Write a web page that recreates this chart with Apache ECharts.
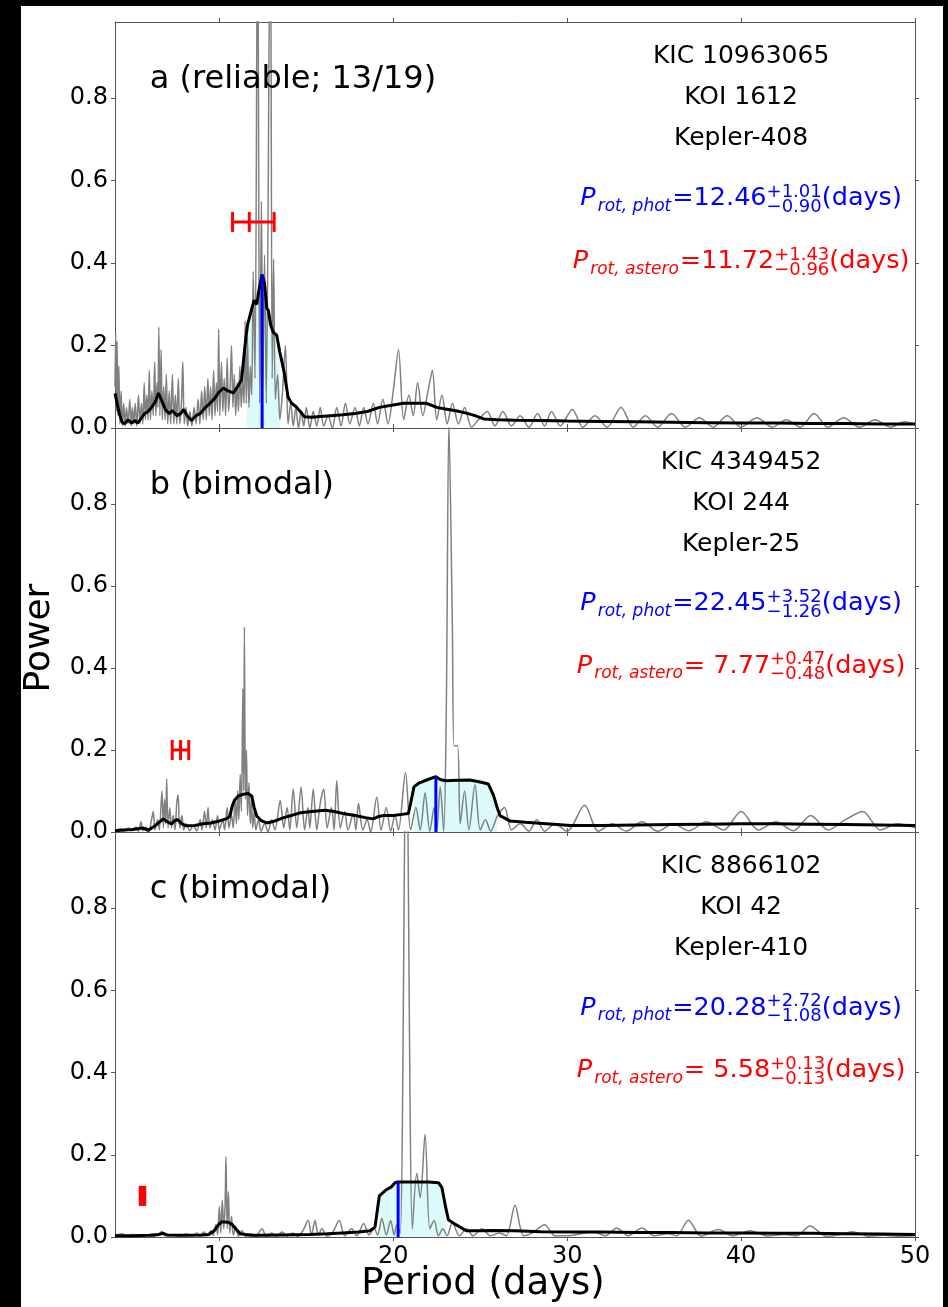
<!DOCTYPE html>
<html><head><meta charset="utf-8">
<script src="https://cdn.jsdelivr.net/npm/echarts@6/dist/echarts.min.js"></script>
<style>
html,body{margin:0;padding:0;background:#000;}
#bg{position:absolute;left:21px;top:6px;width:922px;height:1301px;background:#fff;}
#c{position:absolute;left:0;top:0;width:948px;height:1307px;}
</style>
</head><body>
<div id="bg"></div><div id="c"></div>
<script>
// ---------- data ----------
const periodTicks = [10, 20, 30, 40, 50];
const powerTicks = [0, 0.2, 0.4, 0.6, 0.8];
const panelLabels = ['a (reliable; 13/19)', 'b (bimodal)', 'c (bimodal)'];
const kicNames = ['KIC 10963065', 'KIC 4349452', 'KIC 8866102'];
const koiNames = ['KOI 1612', 'KOI 244', 'KOI 42'];
const keplerNames = ['Kepler-408', 'Kepler-25', 'Kepler-410'];
const pPhot = [12.46, 22.45, 20.28];
const pPhotErrHi = [1.01, 3.52, 2.72];
const pPhotErrLo = [0.90, 1.26, 1.08];
const pAstero = [11.72, 7.77, 5.58];
const pAsteroErrHi = [1.43, 0.47, 0.13];
const pAsteroErrLo = [0.96, 0.48, 0.13];
const pAsteroMarkPower = [0.5, 0.2, 0.1];

const greyA = [[4.0,0.10],[4.04,0.23],[4.08,0.04],[4.12,0.21],[4.17,0.03],[4.22,0.15],[4.28,0.01],[4.35,0.09],[4.42,0.005],[4.5,0.06],[4.58,0.005],[4.66,0.05],[4.75,0.01],[4.85,0.07],[4.93,0.005],[5.0,0.05],[5.08,0.01],[5.16,0.06],[5.25,0.005],[5.35,0.08],[5.43,0.01],[5.52,0.06],[5.6,0.01],[5.68,0.11],[5.75,0.02],[5.83,0.08],[5.9,0.02],[5.97,0.14],[6.04,0.02],[6.12,0.09],[6.2,0.03],[6.28,0.16],[6.35,0.03],[6.42,0.11],[6.47,0.05],[6.52,0.245],[6.58,0.03],[6.65,0.19],[6.72,0.02],[6.8,0.1],[6.88,0.02],[6.95,0.13],[7.03,0.01],[7.12,0.09],[7.2,0.01],[7.3,0.13],[7.38,0.01],[7.47,0.08],[7.55,0.01],[7.64,0.12],[7.72,0.01],[7.82,0.06],[7.9,0.16],[7.98,0.01],[8.08,0.05],[8.18,0.005],[8.3,0.04],[8.42,0.005],[8.55,0.05],[8.66,0.01],[8.78,0.07],[8.88,0.01],[8.98,0.09],[9.07,0.02],[9.16,0.1],[9.25,0.02],[9.34,0.12],[9.42,0.03],[9.5,0.1],[9.58,0.02],[9.67,0.14],[9.75,0.03],[9.83,0.11],[9.9,0.04],[9.96,0.24],[10.03,0.03],[10.12,0.16],[10.2,0.04],[10.28,0.12],[10.36,0.03],[10.45,0.17],[10.53,0.04],[10.62,0.1],[10.7,0.2],[10.78,0.05],[10.86,0.13],[10.94,0.03],[11.02,0.11],[11.1,0.04],[11.18,0.15],[11.26,0.05],[11.34,0.12],[11.42,0.06],[11.48,0.26],[11.55,0.06],[11.62,0.22],[11.7,0.05],[11.78,0.15],[11.86,0.08],[11.95,0.38],[12.05,0.12],[12.2,1.3],[12.32,0.06],[12.42,0.55],[12.5,0.1],[12.6,0.42],[12.7,0.06],[12.93,1.3],[13.04,0.12],[13.12,0.41],[13.22,0.07],[13.35,0.13],[13.48,0.02],[13.62,0.08],[13.8,0.2],[13.95,0.01],[14.1,0.06],[14.25,0.005],[14.4,0.05],[14.55,0.0],[14.7,0.04],[14.85,0.005],[15.0,0.05],[15.2,0.0],[15.4,0.04],[15.6,0.005],[15.8,0.05],[16.0,0.005],[16.25,0.03],[16.5,0.0],[16.75,0.05],[17.0,0.005],[17.25,0.06],[17.5,0.01],[17.8,0.05],[18.05,0.005],[18.3,0.05],[18.55,0.01],[18.85,0.06],[19.1,0.01],[19.4,0.07],[19.7,0.01],[20.0,0.09],[20.3,0.19],[20.6,0.02],[20.9,0.08],[21.15,0.03],[21.4,0.11],[21.7,0.03],[22.0,0.09],[22.25,0.14],[22.5,0.02],[22.8,0.08],[23.1,0.01],[23.4,0.06],[23.75,0.01],[24.1,0.05],[24.5,0.002],[24.9,0.02],[25.4,0.04],[25.85,0.005],[26.3,0.04],[26.8,0.005],[27.3,0.03],[27.8,0.002],[28.3,0.035],[28.7,0.005],[29.1,0.04],[29.6,0.005],[30.3,0.045],[30.9,0.002],[31.6,0.03],[32.3,0.002],[33.1,0.05],[33.8,0.002],[34.5,0.03],[35.2,0.002],[36.0,0.035],[36.8,0.002],[37.6,0.025],[38.4,0.002],[39.2,0.03],[40.0,0.002],[40.9,0.025],[41.8,0.002],[42.6,0.02],[43.4,0.002],[44.2,0.035],[45.0,0.002],[45.9,0.025],[46.8,0.002],[47.7,0.02],[48.6,0.002],[49.4,0.015],[50.0,0.008]];

const smoothA = [[4.0,0.084],[4.12,0.06],[4.25,0.035],[4.4,0.015],[4.55,0.01],[4.75,0.02],[4.95,0.012],[5.15,0.018],[5.3,0.012],[5.45,0.02],[5.7,0.035],[5.9,0.04],[6.1,0.05],[6.3,0.062],[6.5,0.085],[6.7,0.065],[6.9,0.045],[7.1,0.035],[7.3,0.042],[7.57,0.03],[7.8,0.036],[7.95,0.045],[8.15,0.03],[8.4,0.018],[8.65,0.03],[8.9,0.035],[9.2,0.05],[9.46,0.06],[9.7,0.07],[10.0,0.088],[10.23,0.097],[10.5,0.09],[10.8,0.085],[11.05,0.1],[11.28,0.117],[11.45,0.19],[11.56,0.23],[11.62,0.25],[11.87,0.29],[12.0,0.31],[12.15,0.30],[12.3,0.34],[12.46,0.372],[12.6,0.35],[12.73,0.29],[12.82,0.285],[12.95,0.25],[13.1,0.232],[13.3,0.225],[13.47,0.185],[13.55,0.17],[13.75,0.13],[13.95,0.075],[14.15,0.06],[14.4,0.052],[14.65,0.04],[14.9,0.027],[15.3,0.026],[15.8,0.028],[16.4,0.03],[17.1,0.032],[17.8,0.035],[18.5,0.04],[19.2,0.05],[19.9,0.055],[20.6,0.06],[21.3,0.06],[21.9,0.06],[22.5,0.05],[23.0,0.046],[23.6,0.042],[24.2,0.036],[24.7,0.03],[25.2,0.022],[26.0,0.02],[27.0,0.019],[28.5,0.018],[30.0,0.017],[32.0,0.016],[34.0,0.015],[36.0,0.014],[38.0,0.013],[40.0,0.012],[42.0,0.012],[44.0,0.011],[46.0,0.011],[48.0,0.01],[50.0,0.01]];

const greyB = [[4.0,0.002],[4.3,0.008],[4.5,0.002],[4.8,0.01],[5.0,0.003],[5.2,0.012],[5.35,0.002],[5.5,0.025],[5.6,0.003],[5.8,0.012],[5.95,0.002],[6.1,0.03],[6.2,0.05],[6.3,0.005],[6.45,0.03],[6.55,0.005],[6.7,0.1],[6.78,0.01],[6.85,0.08],[6.92,0.02],[6.97,0.13],[7.05,0.01],[7.15,0.06],[7.25,0.01],[7.35,0.04],[7.45,0.005],[7.55,0.07],[7.63,0.09],[7.72,0.01],[7.85,0.04],[7.95,0.005],[8.1,0.02],[8.3,0.003],[8.5,0.015],[8.7,0.003],[8.9,0.03],[9.0,0.005],[9.15,0.05],[9.25,0.01],[9.35,0.06],[9.45,0.01],[9.6,0.03],[9.75,0.005],[9.9,0.04],[10.0,0.005],[10.2,0.03],[10.3,0.005],[10.45,0.06],[10.55,0.01],[10.7,0.04],[10.8,0.01],[10.9,0.08],[10.98,0.02],[11.05,0.1],[11.12,0.03],[11.2,0.14],[11.27,0.05],[11.35,0.35],[11.4,0.1],[11.44,0.5],[11.5,0.08],[11.56,0.2],[11.62,0.04],[11.7,0.12],[11.78,0.02],[11.85,0.08],[11.92,0.01],[12.0,0.05],[12.1,0.005],[12.25,0.03],[12.4,0.002],[12.6,0.02],[12.8,0.0],[13.0,0.03],[13.2,0.005],[13.5,0.077],[13.7,0.01],[13.9,0.06],[14.05,0.005],[14.25,0.105],[14.45,0.01],[14.7,0.11],[14.9,0.005],[15.1,0.06],[15.2,0.01],[15.4,0.105],[15.6,0.005],[15.8,0.07],[16.0,0.105],[16.2,0.01],[16.45,0.06],[16.6,0.005],[16.75,0.125],[16.95,0.01],[17.2,0.05],[17.4,0.005],[17.7,0.045],[17.85,0.005],[18.0,0.07],[18.25,0.005],[18.5,0.03],[18.7,0.0],[19.05,0.085],[19.3,0.005],[19.6,0.06],[19.85,0.002],[20.1,0.04],[20.3,0.005],[20.7,0.145],[21.0,0.005],[21.3,0.06],[21.55,0.005],[21.83,0.095],[22.1,0.002],[22.35,0.06],[22.5,0.002],[22.7,0.11],[22.9,0.002],[23.05,0.3],[23.2,1.0],[23.4,0.5],[23.5,0.21],[23.7,0.21],[23.85,0.02],[24.1,0.1],[24.35,0.005],[24.7,0.115],[25.0,0.005],[25.3,0.03],[25.6,0.002],[26.0,0.04],[26.4,0.06],[26.8,0.005],[27.3,0.02],[27.8,0.002],[28.25,0.03],[28.7,0.002],[29.3,0.02],[30.0,0.002],[31.0,0.065],[31.8,0.002],[32.6,0.02],[33.4,0.002],[34.3,0.025],[35.2,0.002],[36.1,0.02],[37.0,0.003],[38.0,0.025],[39.0,0.005],[40.0,0.05],[41.0,0.005],[42.0,0.025],[43.0,0.003],[44.0,0.04],[45.0,0.005],[46.0,0.03],[47.0,0.05],[48.0,0.005],[49.0,0.02],[50.0,0.01]];

const smoothB = [[4.0,0.003],[4.5,0.005],[5.0,0.006],[5.6,0.01],[5.9,0.004],[6.2,0.012],[6.5,0.022],[6.77,0.032],[7.0,0.025],[7.25,0.02],[7.45,0.028],[7.6,0.03],[7.85,0.02],[8.1,0.015],[8.6,0.016],[9.05,0.02],[9.5,0.022],[10.0,0.027],[10.4,0.032],[10.6,0.038],[10.75,0.065],[10.88,0.078],[11.1,0.088],[11.38,0.092],[11.65,0.094],[11.86,0.088],[12.0,0.06],[12.15,0.039],[12.4,0.028],[12.73,0.022],[13.2,0.027],[13.7,0.035],[14.2,0.041],[14.67,0.047],[15.3,0.05],[16.08,0.053],[16.6,0.05],[17.1,0.045],[17.8,0.04],[18.4,0.035],[18.85,0.032],[19.1,0.037],[19.4,0.04],[20.0,0.04],[20.5,0.043],[20.87,0.045],[21.0,0.07],[21.19,0.11],[21.5,0.12],[22.0,0.128],[22.45,0.135],[22.7,0.128],[23.0,0.125],[23.7,0.126],[24.4,0.127],[25.0,0.122],[25.47,0.117],[25.76,0.09],[25.97,0.06],[26.14,0.04],[26.7,0.027],[27.6,0.024],[28.6,0.021],[30.2,0.016],[32.0,0.016],[34.0,0.017],[36.0,0.018],[38.0,0.019],[40.0,0.02],[42.0,0.02],[44.0,0.019],[46.0,0.018],[48.0,0.017],[50.0,0.016]];

const greyC = [[4.0,0.004],[4.4,0.008],[4.7,0.002],[5.0,0.006],[5.4,0.002],[5.8,0.005],[6.2,0.002],[6.5,0.006],[6.7,0.014],[6.85,0.003],[7.3,0.004],[7.7,0.002],[8.1,0.007],[8.4,0.002],[8.7,0.01],[8.9,0.002],[9.1,0.012],[9.3,0.003],[9.5,0.015],[9.65,0.004],[9.8,0.03],[9.9,0.006],[10.0,0.075],[10.08,0.01],[10.17,0.09],[10.25,0.02],[10.33,0.08],[10.38,0.195],[10.45,0.02],[10.52,0.11],[10.6,0.01],[10.7,0.05],[10.8,0.005],[10.95,0.025],[11.1,0.002],[11.3,0.015],[11.5,0.002],[11.8,0.008],[12.1,0.002],[12.45,0.02],[12.7,0.002],[13.0,0.01],[13.3,0.002],[13.6,0.012],[13.9,0.002],[14.2,0.01],[14.5,0.002],[14.8,0.015],[15.1,0.04],[15.3,0.005],[15.5,0.04],[15.7,0.005],[15.9,0.02],[16.2,0.002],[16.5,0.01],[16.9,0.04],[17.2,0.003],[17.6,0.02],[17.9,0.003],[18.3,0.033],[18.6,0.005],[18.9,0.02],[19.1,0.005],[19.34,0.045],[19.6,0.005],[19.85,0.04],[20.05,0.005],[20.2,0.03],[20.4,0.01],[20.75,1.3],[21.1,0.02],[21.35,0.155],[21.55,0.095],[21.83,0.25],[22.1,0.02],[22.35,0.04],[22.6,0.003],[22.85,0.02],[23.1,0.003],[23.4,0.035],[23.8,0.003],[24.2,0.02],[24.6,0.003],[25.1,0.02],[25.6,0.003],[26.1,0.01],[26.5,0.003],[27.0,0.077],[27.5,0.003],[28.0,0.01],[28.7,0.03],[29.3,0.003],[30.0,0.003],[30.8,0.008],[31.5,0.013],[32.2,0.003],[32.85,0.022],[33.5,0.003],[34.3,0.022],[35.0,0.003],[35.8,0.008],[36.3,0.003],[36.97,0.041],[37.7,0.002],[38.7,0.018],[39.5,0.003],[40.5,0.015],[41.5,0.003],[42.5,0.006],[43.2,0.003],[43.96,0.027],[44.9,0.002],[45.6,0.005],[46.4,0.013],[47.3,0.002],[48.2,0.004],[49.0,0.002],[50.0,0.003]];

const smoothC = [[4.0,0.003],[5.0,0.003],[6.0,0.004],[6.5,0.006],[6.77,0.009],[7.0,0.005],[8.0,0.004],[9.0,0.005],[9.4,0.006],[9.7,0.015],[9.95,0.03],[10.13,0.037],[10.5,0.036],[10.75,0.03],[10.9,0.022],[11.2,0.008],[11.8,0.004],[12.35,0.004],[13.5,0.005],[15.2,0.006],[16.2,0.008],[17.1,0.01],[18.0,0.012],[18.66,0.015],[18.95,0.024],[19.1,0.07],[19.2,0.1],[19.6,0.115],[19.9,0.122],[20.1,0.132],[20.28,0.134],[21.0,0.134],[22.0,0.134],[22.6,0.132],[22.8,0.12],[23.0,0.075],[23.17,0.042],[23.6,0.03],[24.2,0.015],[25.0,0.015],[25.7,0.016],[27.0,0.015],[28.5,0.013],[30.2,0.012],[32.0,0.012],[34.0,0.011],[36.0,0.011],[38.0,0.01],[40.0,0.01],[42.0,0.009],[44.0,0.009],[46.0,0.008],[48.0,0.007],[50.0,0.006]];

const greyCurves = [greyA, greyB, greyC];
const smoothCurves = [smoothA, smoothB, smoothC];

// ---------- chart ----------
const FONT = '"DejaVu Sans", sans-serif';
const AX = '#555';
const Y_MAX = 0.985;
const grids = [
  {left:115, top:22, width:800, height:406},
  {left:115, top:428, width:800, height:404},
  {left:115, top:832, width:800, height:405}
];
const xAxes = [], yAxes = [], series = [];
for (let k = 0; k < 3; k++) {
  ['bottom','top'].forEach(pos => {
    xAxes.push({type:'value', gridIndex:k, min:4, max:50, position:pos,
      axisLine:{show:true, onZero:false, lineStyle:{color:AX, width:1}},
      axisTick:{show:true, inside:false, length:4, customValues:periodTicks, lineStyle:{color:AX}},
      axisLabel:{show:(k===2 && pos==='bottom'), customValues:periodTicks, fontSize:24, color:'#000', fontFamily:FONT, margin:8},
      splitLine:{show:false}});
  });
  ['left','right'].forEach(pos => {
    yAxes.push({type:'value', gridIndex:k, min:0, max:Y_MAX, position:pos,
      axisLine:{show:true, onZero:false, lineStyle:{color:AX, width:1}},
      axisTick:{show:true, inside:false, length:4, customValues:powerTicks, lineStyle:{color:AX}},
      axisLabel:{show:pos==='left', customValues:powerTicks, formatter:v=>v.toFixed(1), fontSize:24, color:'#000', fontFamily:FONT, margin:7},
      splitLine:{show:false}});
  });
  const xi = 2*k, yi = 2*k;
  const sm = smoothCurves[k];
  const lo = pPhot[k]-pPhotErrLo[k], hi = pPhot[k]+pPhotErrHi[k];
  series.push({type:'line', xAxisIndex:xi, yAxisIndex:yi, silent:true, z:1,
    data: sm.filter(p => p[0] >= lo-1e-6 && p[0] <= hi+1e-6),
    showSymbol:false, lineStyle:{width:0}, areaStyle:{color:'#dcfafa', opacity:1}});
  series.push({type:'line', xAxisIndex:xi, yAxisIndex:yi, silent:true, z:2,
    data: greyCurves[k], showSymbol:false, smooth:0.3,
    lineStyle:{color:'#808080', width:1.5}});
  series.push({type:'line', xAxisIndex:xi, yAxisIndex:yi, silent:true, z:3,
    data: sm, showSymbol:false, lineStyle:{color:'#000', width:3}});
  const peak = sm.find(p => Math.abs(p[0]-pPhot[k]) < 1e-6);
  series.push({type:'line', xAxisIndex:xi, yAxisIndex:yi, silent:true, z:4,
    data: [[pPhot[k],0],[pPhot[k],peak[1]]], showSymbol:false, lineStyle:{color:'#0000ff', width:3}});
  series.push({type:'custom', xAxisIndex:xi, yAxisIndex:yi, silent:true, z:5,
    data: [[pAstero[k], pAsteroErrLo[k], pAsteroErrHi[k], pAsteroMarkPower[k]]],
    encode:{x:0, y:3},
    renderItem: (params, api) => {
      const c = api.value(0), l = api.value(1), h = api.value(2), y = api.value(3);
      const pc = api.coord([c,y]), pl = api.coord([c-l,y]), ph = api.coord([c+h,y]);
      const cap = 10, st = {stroke:'#ff0000', lineWidth:3};
      const vline = x => ({type:'line', shape:{x1:x, y1:pc[1]-cap, x2:x, y2:pc[1]+cap}, style:st});
      return {type:'group', children:[
        {type:'line', shape:{x1:pl[0], y1:pl[1], x2:ph[0], y2:ph[1]}, style:st},
        vline(pl[0]), vline(ph[0]), vline(pc[0])
      ]};
    }});
}

const chart = echarts.init(document.getElementById('c'), null, {renderer:'canvas'});
chart.setOption({animation:false, backgroundColor:'transparent', grid:grids, xAxis:xAxes, yAxis:yAxes, series:series});

// ---------- text ----------
const R = 0.35;
const ctx = document.createElement('canvas').getContext('2d');
function tw(font, text){ ctx.font = font; return ctx.measureText(text).width; }
function txt(x, baseline, text, font, fs, color, align){
  return {type:'text', x:x, y:baseline - R*fs, silent:true, z:10,
    style:{text:text, font:font, fill:color, align:align||'left', verticalAlign:'middle'}};
}
const els = [];
function px(k, x, y){ return chart.convertToPixel({xAxisIndex:2*k, yAxisIndex:2*k}, [x, y]); }
function protLine(k, baseV, color, subTxt, valTxt, hiTxt, loTxt){
  const p = px(k, 40, baseV), cx = p[0], by = p[1];
  const MS = 25.5, SS = 18, TS = 17;
  const fM = MS+'px '+FONT, fMi = 'italic '+MS+'px '+FONT, fS = SS+'px '+FONT, fSi = 'italic '+TS+'px '+FONT;
  const wP = tw(fMi,'P'), wSub = tw(fSi,subTxt), wVal = tw(fM,valTxt);
  const wSt = Math.max(tw(fS,hiTxt), tw(fS,loTxt)), wD = tw(fM,'(days)');
  const g1 = 2, g2 = 1;
  const total = wP+g1+wSub+g2+wVal+wSt+wD;
  let x = cx - total/2;
  els.push(txt(x, by, 'P', fMi, MS, color)); x += wP+g1;
  els.push(txt(x, by+5, subTxt, fSi, TS, color)); x += wSub+g2;
  els.push(txt(x, by, valTxt, fM, MS, color)); x += wVal;
  els.push(txt(x, by-9, hiTxt, fS, SS, color));
  els.push(txt(x, by+6, loTxt, fS, SS, color)); x += wSt;
  els.push(txt(x, by, '(days)', fM, MS, color));
}
for (let k = 0; k < 3; k++) {
  let p = px(k, 6.0, 0.818);
  els.push(txt(p[0], p[1], panelLabels[k], '32px '+FONT, 32, '#000'));
  p = px(k, 40, 0.88); els.push(txt(p[0], p[1], kicNames[k], '25px '+FONT, 25, '#000', 'center'));
  p = px(k, 40, 0.78); els.push(txt(p[0], p[1], koiNames[k], '25px '+FONT, 25, '#000', 'center'));
  p = px(k, 40, 0.68); els.push(txt(p[0], p[1], keplerNames[k], '25px '+FONT, 25, '#000', 'center'));
  protLine(k, 0.535, '#0000ff', 'rot, phot', '=' + pPhot[k].toFixed(2),
    '+' + pPhotErrHi[k].toFixed(2), '\u2212' + pPhotErrLo[k].toFixed(2));
  protLine(k, 0.383, '#ff0000', 'rot, astero', '=' + pAstero[k].toFixed(2).padStart(5, ' '),
    '+' + pAsteroErrHi[k].toFixed(2), '\u2212' + pAsteroErrLo[k].toFixed(2));
}
els.push({type:'text', x:40, y:638, rotation:Math.PI/2, silent:true, z:10,
  style:{text:'Power', font:'36px '+FONT, fill:'#000', align:'center', verticalAlign:'middle'}});
els.push({type:'text', x:483, y:1284, silent:true, z:10,
  style:{text:'Period (days)', font:'37px '+FONT, fill:'#000', align:'center', verticalAlign:'middle'}});
chart.setOption({graphic:{elements:els}});
</script>
</body></html>
